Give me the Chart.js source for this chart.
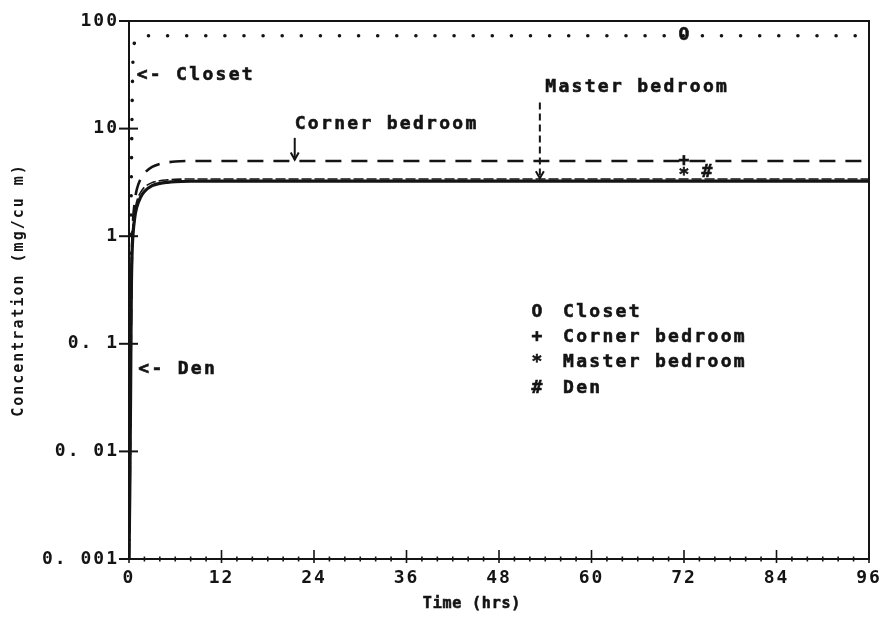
<!DOCTYPE html>
<html><head><meta charset="utf-8">
<script src="https://cdn.jsdelivr.net/npm/chart.js@4.4.1/dist/chart.umd.min.js"></script>
<style>html,body{margin:0;padding:0;background:#fff;}#wrap{width:883px;height:639px;position:relative;}</style>
</head><body><div id="wrap"><canvas id="c" width="883" height="639"></canvas></div>
<script>
// ---- data ----
const timeHours = [0, 0.1, 0.2, 0.3, 0.4, 0.5, 0.75, 1, 1.5, 2, 3, 4, 5, 6, 8, 12, 24, 48, 72, 96];
const closet    = [0.001, 0.02, 0.3, 3, 15, 40, 65, 71, 73, 73, 73, 73, 73, 73, 73, 73, 73, 73, 73, 73];
const corner    = [0.001, 0.005, 0.05, 0.3, 0.8, 1.3, 2.1, 2.7, 3.4, 3.85, 4.4, 4.7, 4.85, 4.95, 5.0, 5.0, 5.0, 5.0, 5.0, 5.0];
const master    = [0.001, 0.01, 0.1, 0.5, 0.9, 1.2, 1.7, 2.1, 2.55, 2.85, 3.15, 3.28, 3.34, 3.38, 3.4, 3.4, 3.4, 3.4, 3.4, 3.4];
const den       = [0.001, 0.004, 0.03, 0.3, 0.7, 1.0, 1.5, 1.85, 2.3, 2.6, 2.95, 3.1, 3.17, 3.21, 3.24, 3.25, 3.25, 3.25, 3.25, 3.25];
const seriesNames   = ['Closet', 'Corner bedroom', 'Master bedroom', 'Den'];
const legendSymbols = ['O', '+', '*', '#'];
const markerTimes   = [72, 72, 72, 75];
const markerValues  = [73, 5.0, 3.7, 3.9];
const xMajorTicks   = [0, 12, 24, 36, 48, 60, 72, 84, 96];
const xMinorStep    = 2;
const yTickValues   = [0.001, 0.01, 0.1, 1, 10, 100];
const yTickLabels   = ['0. 001', '0. 01', '0. 1', '1', '10', '100'];
const xTitle = 'Time (hrs)';
const yTitle = 'Concentration (mg/cu m)';
// annotations: [text, time, value]
const annotations = [
  ['<- Closet', 1.0, 31],
  ['Corner bedroom', 21.5, 11],
  ['Master bedroom', 54, 24],
  ['<- Den', 1.2, 0.058]
];
// arrows: [time, fromValue, toValue, dashed]
const arrows = [
  [21.5, 8.2, 5.15, false],
  [53.3, 17.5, 3.45, true]
];

const FONT = '"DejaVu Sans Mono", "Liberation Mono", monospace';
const INK = '#141414';
const pts = (vals) => timeHours.map((t, i) => ({x: t, y: vals[i]}));

function heavyText(ctx, txt, x, y) {
  ctx.fillText(txt, x, y);
  ctx.strokeText(txt, x, y);
}

const decor = {
  id: 'decor',
  beforeDraw(chart) { chart.ctx.letterSpacing = '2px'; },
  afterDraw(chart) {
    const ctx = chart.ctx, xs = chart.scales.x, ys = chart.scales.y;
    const a = chart.chartArea;
    ctx.save();
    ctx.strokeStyle = INK; ctx.fillStyle = INK;
    // frame
    ctx.lineWidth = 2;
    ctx.strokeRect(a.left, a.top, a.right - a.left, a.bottom - a.top);
    // x ticks
    ctx.lineWidth = 1.6;
    for (let t = 0; t <= 96; t += xMinorStep) {
      const px = xs.getPixelForValue(t);
      const major = xMajorTicks.includes(t);
      ctx.beginPath();
      ctx.moveTo(px, a.bottom - (major ? 9 : 2.5));
      ctx.lineTo(px, a.bottom + (major ? 4 : 2.5));
      ctx.stroke();
    }
    // y ticks
    ctx.lineWidth = 2;
    yTickValues.forEach(v => {
      const py = ys.getPixelForValue(v);
      ctx.beginPath(); ctx.moveTo(a.left - 10, py); ctx.lineTo(a.left + 9, py); ctx.stroke();
    });
    // arrows
    arrows.forEach(([t, v0, v1, dashed]) => {
      const px = xs.getPixelForValue(t), y0 = ys.getPixelForValue(v0), y1 = ys.getPixelForValue(v1);
      ctx.lineWidth = 2;
      ctx.setLineDash(dashed ? [7, 4] : []);
      ctx.beginPath(); ctx.moveTo(px, y0); ctx.lineTo(px, y1); ctx.stroke();
      ctx.setLineDash([]);
      ctx.beginPath(); ctx.moveTo(px - 4, y1 - 7); ctx.lineTo(px, y1); ctx.lineTo(px + 4, y1 - 7); ctx.stroke();
    });
    ctx.letterSpacing = '2.3px';
    ctx.font = 'bold 18px ' + FONT;
    ctx.lineWidth = 0.6;
    ctx.textBaseline = 'middle';
    // markers
    markerTimes.forEach((t, i) => {
      const px = xs.getPixelForValue(t), py = ys.getPixelForValue(markerValues[i]);
      ctx.textAlign = 'center';
      heavyText(ctx, legendSymbols[i], px + 1, py);
    });
    ctx.textAlign = 'left';
    // annotations
    annotations.forEach(([txt, t, v]) => {
      heavyText(ctx, txt, xs.getPixelForValue(t), ys.getPixelForValue(v));
    });
    // legend
    const lx = 538, ly = 312;
    seriesNames.forEach((n, i) => {
      ctx.textAlign = 'center';
      heavyText(ctx, legendSymbols[i], lx, ly + i * 25.3);
      ctx.textAlign = 'left';
      heavyText(ctx, n, lx + 25, ly + i * 25.3);
    });
    // x title
    ctx.letterSpacing = '0.8px';
    ctx.font = 'bold 15px ' + FONT;
    ctx.textAlign = 'center';
    heavyText(ctx, xTitle, 472, 604);
    ctx.restore();
    ctx.letterSpacing = '0px';
  }
};

new Chart(document.getElementById('c'), {
  type: 'line',
  data: {
    datasets: [
      {label: seriesNames[0], data: pts(closet), borderColor: INK, borderWidth: 3.5,
       borderDash: [0.1, 19], borderCapStyle: 'round', pointRadius: 0, cubicInterpolationMode: 'monotone'},
      {label: seriesNames[1], data: pts(corner), borderColor: INK, borderWidth: 2.6,
       borderDash: [16, 10], pointRadius: 0, cubicInterpolationMode: 'monotone'},
      {label: seriesNames[2], data: pts(master), borderColor: INK, borderWidth: 1.6,
       borderDash: [10, 3], pointRadius: 0, cubicInterpolationMode: 'monotone'},
      {label: seriesNames[3], data: pts(den), borderColor: INK, borderWidth: 3.2,
       pointRadius: 0, cubicInterpolationMode: 'monotone'}
    ]
  },
  options: {
    responsive: false, animation: false,
    layout: {padding: {left: 6, right: 14, top: 21, bottom: 10}},
    plugins: {legend: {display: false}, tooltip: {enabled: false}},
    scales: {
      x: {
        type: 'linear', min: 0, max: 96,
        grid: {display: false, drawTicks: false}, border: {display: false},
        ticks: {stepSize: 12, autoSkip: false, maxRotation: 0, padding: 9, color: INK,
                font: {family: FONT, weight: 'bold', size: 18},
                callback: (v) => String(v)},
        afterFit: (s) => { s.height = 70; s.paddingLeft = 0; s.paddingRight = 0; }
      },
      y: {
        type: 'logarithmic', min: 0.001, max: 100,
        grid: {display: false, drawTicks: false}, border: {display: false},
        afterBuildTicks: (s) => { s.ticks = yTickValues.map(v => ({value: v})); },
        ticks: {padding: 10, color: INK, autoSkip: false,
                font: {family: FONT, weight: 'bold', size: 18},
                callback: (v, i) => yTickLabels[i]},
        title: {display: true, text: yTitle, color: INK, padding: {top: 4, bottom: 0},
                font: {family: FONT, weight: 'bold', size: 15}},
        afterFit: (s) => { s.width = 123; s.paddingTop = 0; s.paddingBottom = 0; }
      }
    }
  },
  plugins: [decor]
});
</script></body></html>
